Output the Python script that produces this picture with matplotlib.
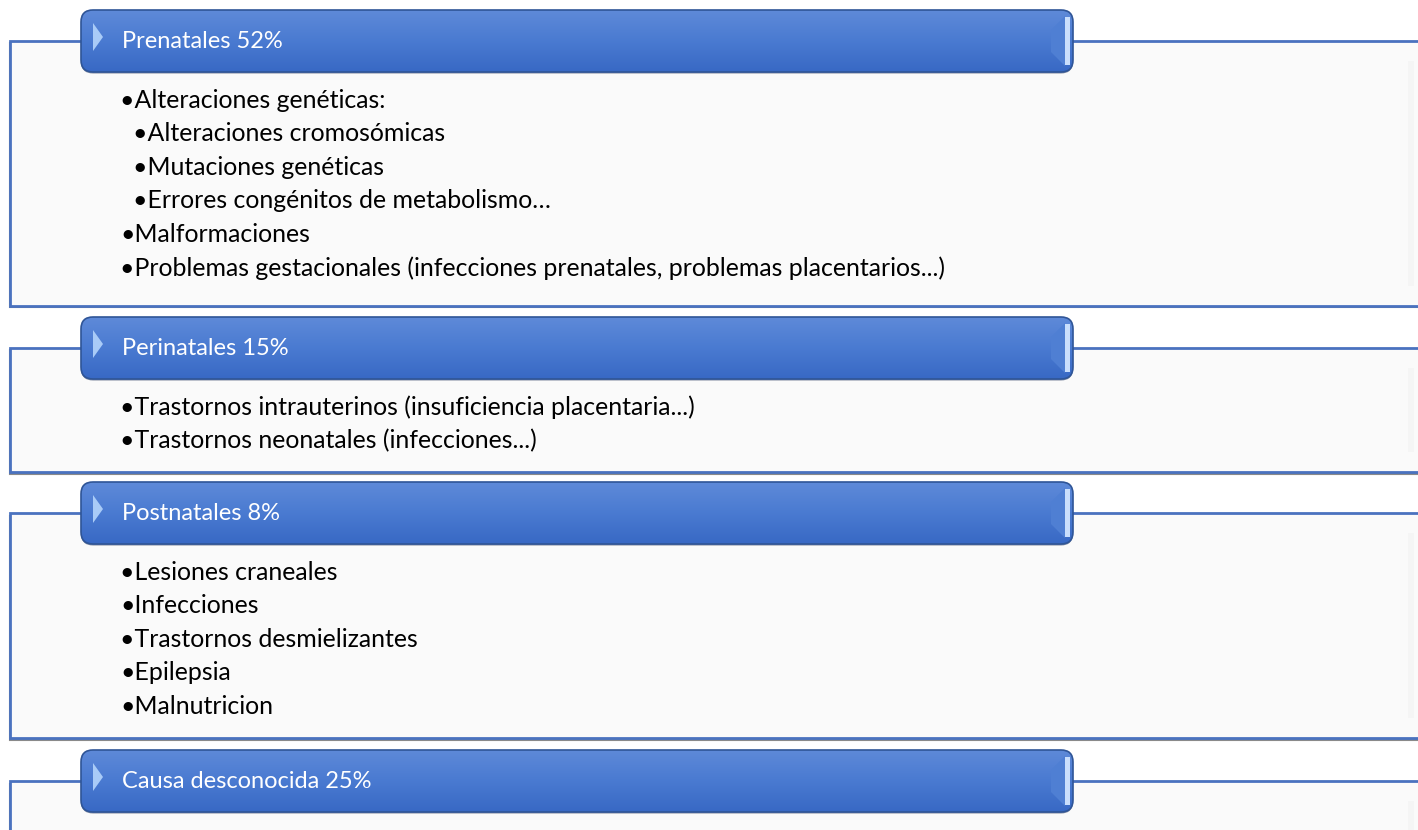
import numpy as np
import matplotlib
matplotlib.use("Agg")
import matplotlib.pyplot as plt
from matplotlib.patches import FancyBboxPatch, Rectangle, Polygon

# Datos del diagrama
categorias = ["Prenatales", "Perinatales", "Postnatales", "Causa desconocida"]
porcentajes = [52, 15, 8, 25]
items = [
    [(0, "Alteraciones genéticas:"),
     (1, "Alteraciones cromosómicas"),
     (1, "Mutaciones genéticas"),
     (1, "Errores congénitos de metabolismo…"),
     (0, "Malformaciones"),
     (0, "Problemas gestacionales (infecciones prenatales, problemas placentarios...)")],
    [(0, "Trastornos intrauterinos (insuficiencia placentaria...)"),
     (0, "Trastornos neonatales (infecciones...)")],
    [(0, "Lesiones craneales"),
     (0, "Infecciones"),
     (0, "Trastornos desmielizantes"),
     (0, "Epilepsia"),
     (0, "Malnutricion")],
    [],
]

# posiciones en pixeles (layout)
cab_top = [10, 317, 482, 750]
caja_bottom = [306, 472, 738, 860]
cab_h = 62
cab_x0, cab_x1 = 81, 1073
W, H = 1418, 830
paso = 33.6

plt.rcParams["font.family"] = ["Lato", "DejaVu Sans"]

fig = plt.figure(figsize=(W / 100, H / 100), dpi=100)
ax = fig.add_axes([0, 0, 1, 1])
ax.set_xlim(0, W)
ax.set_ylim(H, 0)
ax.axis("off")

# gradiente del encabezado
c_top = np.array([0.37, 0.54, 0.85])
c_mid = np.array([0.29, 0.48, 0.82])
c_bot = np.array([0.22, 0.41, 0.77])
img = np.zeros((100, 2, 3))
for i, t in enumerate(np.linspace(0, 1, 100)):
    if t < 0.5:
        img[i, :, :] = c_top + (c_mid - c_top) * (t / 0.5)
    else:
        img[i, :, :] = c_mid + (c_bot - c_mid) * ((t - 0.5) / 0.5)

for k, cat in enumerate(categorias):
    top = cab_top[k]
    yc = top + cab_h / 2
    bot = caja_bottom[k]

    # caja de contenido
    ax.add_patch(Rectangle((10, yc + 1.5), W + 20, bot - yc, facecolor="none",
                           edgecolor="#8a8a8a", lw=1.5, zorder=1))
    ax.add_patch(Rectangle((10, yc), W + 20, bot - yc, facecolor="#fafafa",
                           edgecolor="#4a72bf", lw=2, zorder=2))
    # sombra tenue a la derecha
    ax.add_patch(Rectangle((1408, yc + 20), 6, bot - yc - 40, facecolor="#f5f5f5",
                           edgecolor="none", zorder=2.5))

    # encabezado
    sombra = FancyBboxPatch((cab_x0, top + 1.5), cab_x1 - cab_x0, cab_h,
                            boxstyle="round,pad=0,rounding_size=12",
                            facecolor="#7f8aa0", edgecolor="none", zorder=3)
    ax.add_patch(sombra)
    caja = FancyBboxPatch((cab_x0, top), cab_x1 - cab_x0, cab_h,
                          boxstyle="round,pad=0,rounding_size=12",
                          facecolor="none", edgecolor="#2f5597", lw=1.2, zorder=5)
    ax.add_patch(caja)
    im = ax.imshow(img, extent=(cab_x0, cab_x1, top + cab_h, top),
                   aspect="auto", zorder=4, interpolation="bilinear")
    im.set_clip_path(caja)

    # brillo lateral derecho
    ax.add_patch(Polygon([(cab_x1 - 22, top + 20), (cab_x1 - 8, top + 6),
                          (cab_x1 - 8, top + cab_h - 6), (cab_x1 - 22, top + cab_h - 20)],
                         closed=True, facecolor="#4f7fd3", edgecolor="none", zorder=6))
    ax.add_patch(Rectangle((cab_x1 - 8, top + 7), 5, cab_h - 14,
                           facecolor="#c9defc", edgecolor="none", zorder=6))
    # triangulo izquierdo
    ax.add_patch(Polygon([(93, top + 13), (103, top + 27), (93, top + 41)],
                         closed=True, facecolor="#a9cbf7", edgecolor="none", zorder=6))

    ax.text(122, yc, f"{cat} {porcentajes[k]}%", color="white", fontsize=17,
            va="center", ha="left", zorder=7)

    y = top + cab_h + 28
    for nivel, txt in items[k]:
        x = 120 if nivel == 0 else 133
        ax.text(x, y, "•" + txt, color="black", fontsize=17.9, va="center",
                ha="left", zorder=7)
        y += paso

fig.savefig("out.png", dpi=100)
